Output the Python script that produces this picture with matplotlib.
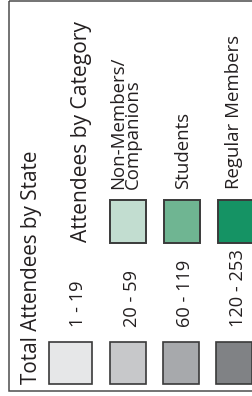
import matplotlib
matplotlib.use("Agg")
import matplotlib.pyplot as plt
from matplotlib.patches import Rectangle

# ---- data ----
state_title = "Total Attendees by State"
state_ranges = ["1 - 19", "20 - 59", "60 - 119", "120 - 253"]
state_colors = ["#e6e7e8", "#c7c8ca", "#a7a9ac", "#808285"]

category_title = "Attendees by Category"
categories = ["Non-Members/\nCompanions", "Students", "Regular Members"]
category_colors = ["#c2ddd0", "#6fb592", "#159364"]

# ---- layout (pixel space) ----
W, H = 253, 396
FONT = ["Open Sans", "DejaVu Sans"]
TXT = "#231f20"
gray_x = [(49, 92), (110, 146), (163, 199), (216, 252)]
gray_y = (342, 384)
green_x = [(110, 146), (164, 200), (218, 253)]
green_y = (200, 243)
range_base_x = [83, 137, 190, 243]
cat_base_x = [138, 188, 239]
LINE_STEP = 14.5

fig = plt.figure(figsize=(W / 100, H / 100), dpi=100)
ax = fig.add_axes([0, 0, 1, 1])
ax.set_xlim(0, W)
ax.set_ylim(H, 0)
ax.axis("off")
renderer = fig.canvas.get_renderer()


def fit_size(s, target_px):
    t = fig.text(0, 0, s, fontsize=10, family=FONT)
    w = t.get_window_extent(renderer).width
    t.remove()
    return 10 * target_px / w


# outer frame
ax.add_patch(Rectangle((9, 1), 260, 390, fill=False, edgecolor="#4d4d4d", lw=1.1))

# titles
ax.text(37, 384, state_title, rotation=90, rotation_mode="anchor", ha="left",
        va="baseline", fontsize=fit_size(state_title, 234), color=TXT, family=FONT)
ax.text(87, 242, category_title, rotation=90, rotation_mode="anchor", ha="left",
        va="baseline", fontsize=fit_size(category_title, 221), color=TXT, family=FONT)

rsize = fit_size(state_ranges[-1], 65) * 1.2
for (x0, x1), col, lab, bx in zip(gray_x, state_colors, state_ranges, range_base_x):
    ax.add_patch(Rectangle((x0, gray_y[0]), x1 - x0, gray_y[1] - gray_y[0],
                           facecolor=col, edgecolor="#3a3a3a", lw=1.2))
    ax.text(bx, 327, lab, rotation=90, rotation_mode="anchor", ha="left",
            va="baseline", fontsize=rsize, color=TXT, family=FONT)

csize = fit_size(categories[-1], 154)
for (x0, x1), col, lab, bx in zip(green_x, category_colors, categories, cat_base_x):
    ax.add_patch(Rectangle((x0, green_y[0]), x1 - x0, green_y[1] - green_y[0],
                           facecolor=col, edgecolor="#3a3a3a", lw=1.4))
    lines = lab.split("\n")
    n = len(lines)
    for i, line in enumerate(lines):
        ax.text(bx - (n - 1 - i) * LINE_STEP, 189, line, rotation=90,
                rotation_mode="anchor", ha="left", va="baseline",
                fontsize=csize, color=TXT, family=FONT)

fig.savefig("out.png", dpi=100)
